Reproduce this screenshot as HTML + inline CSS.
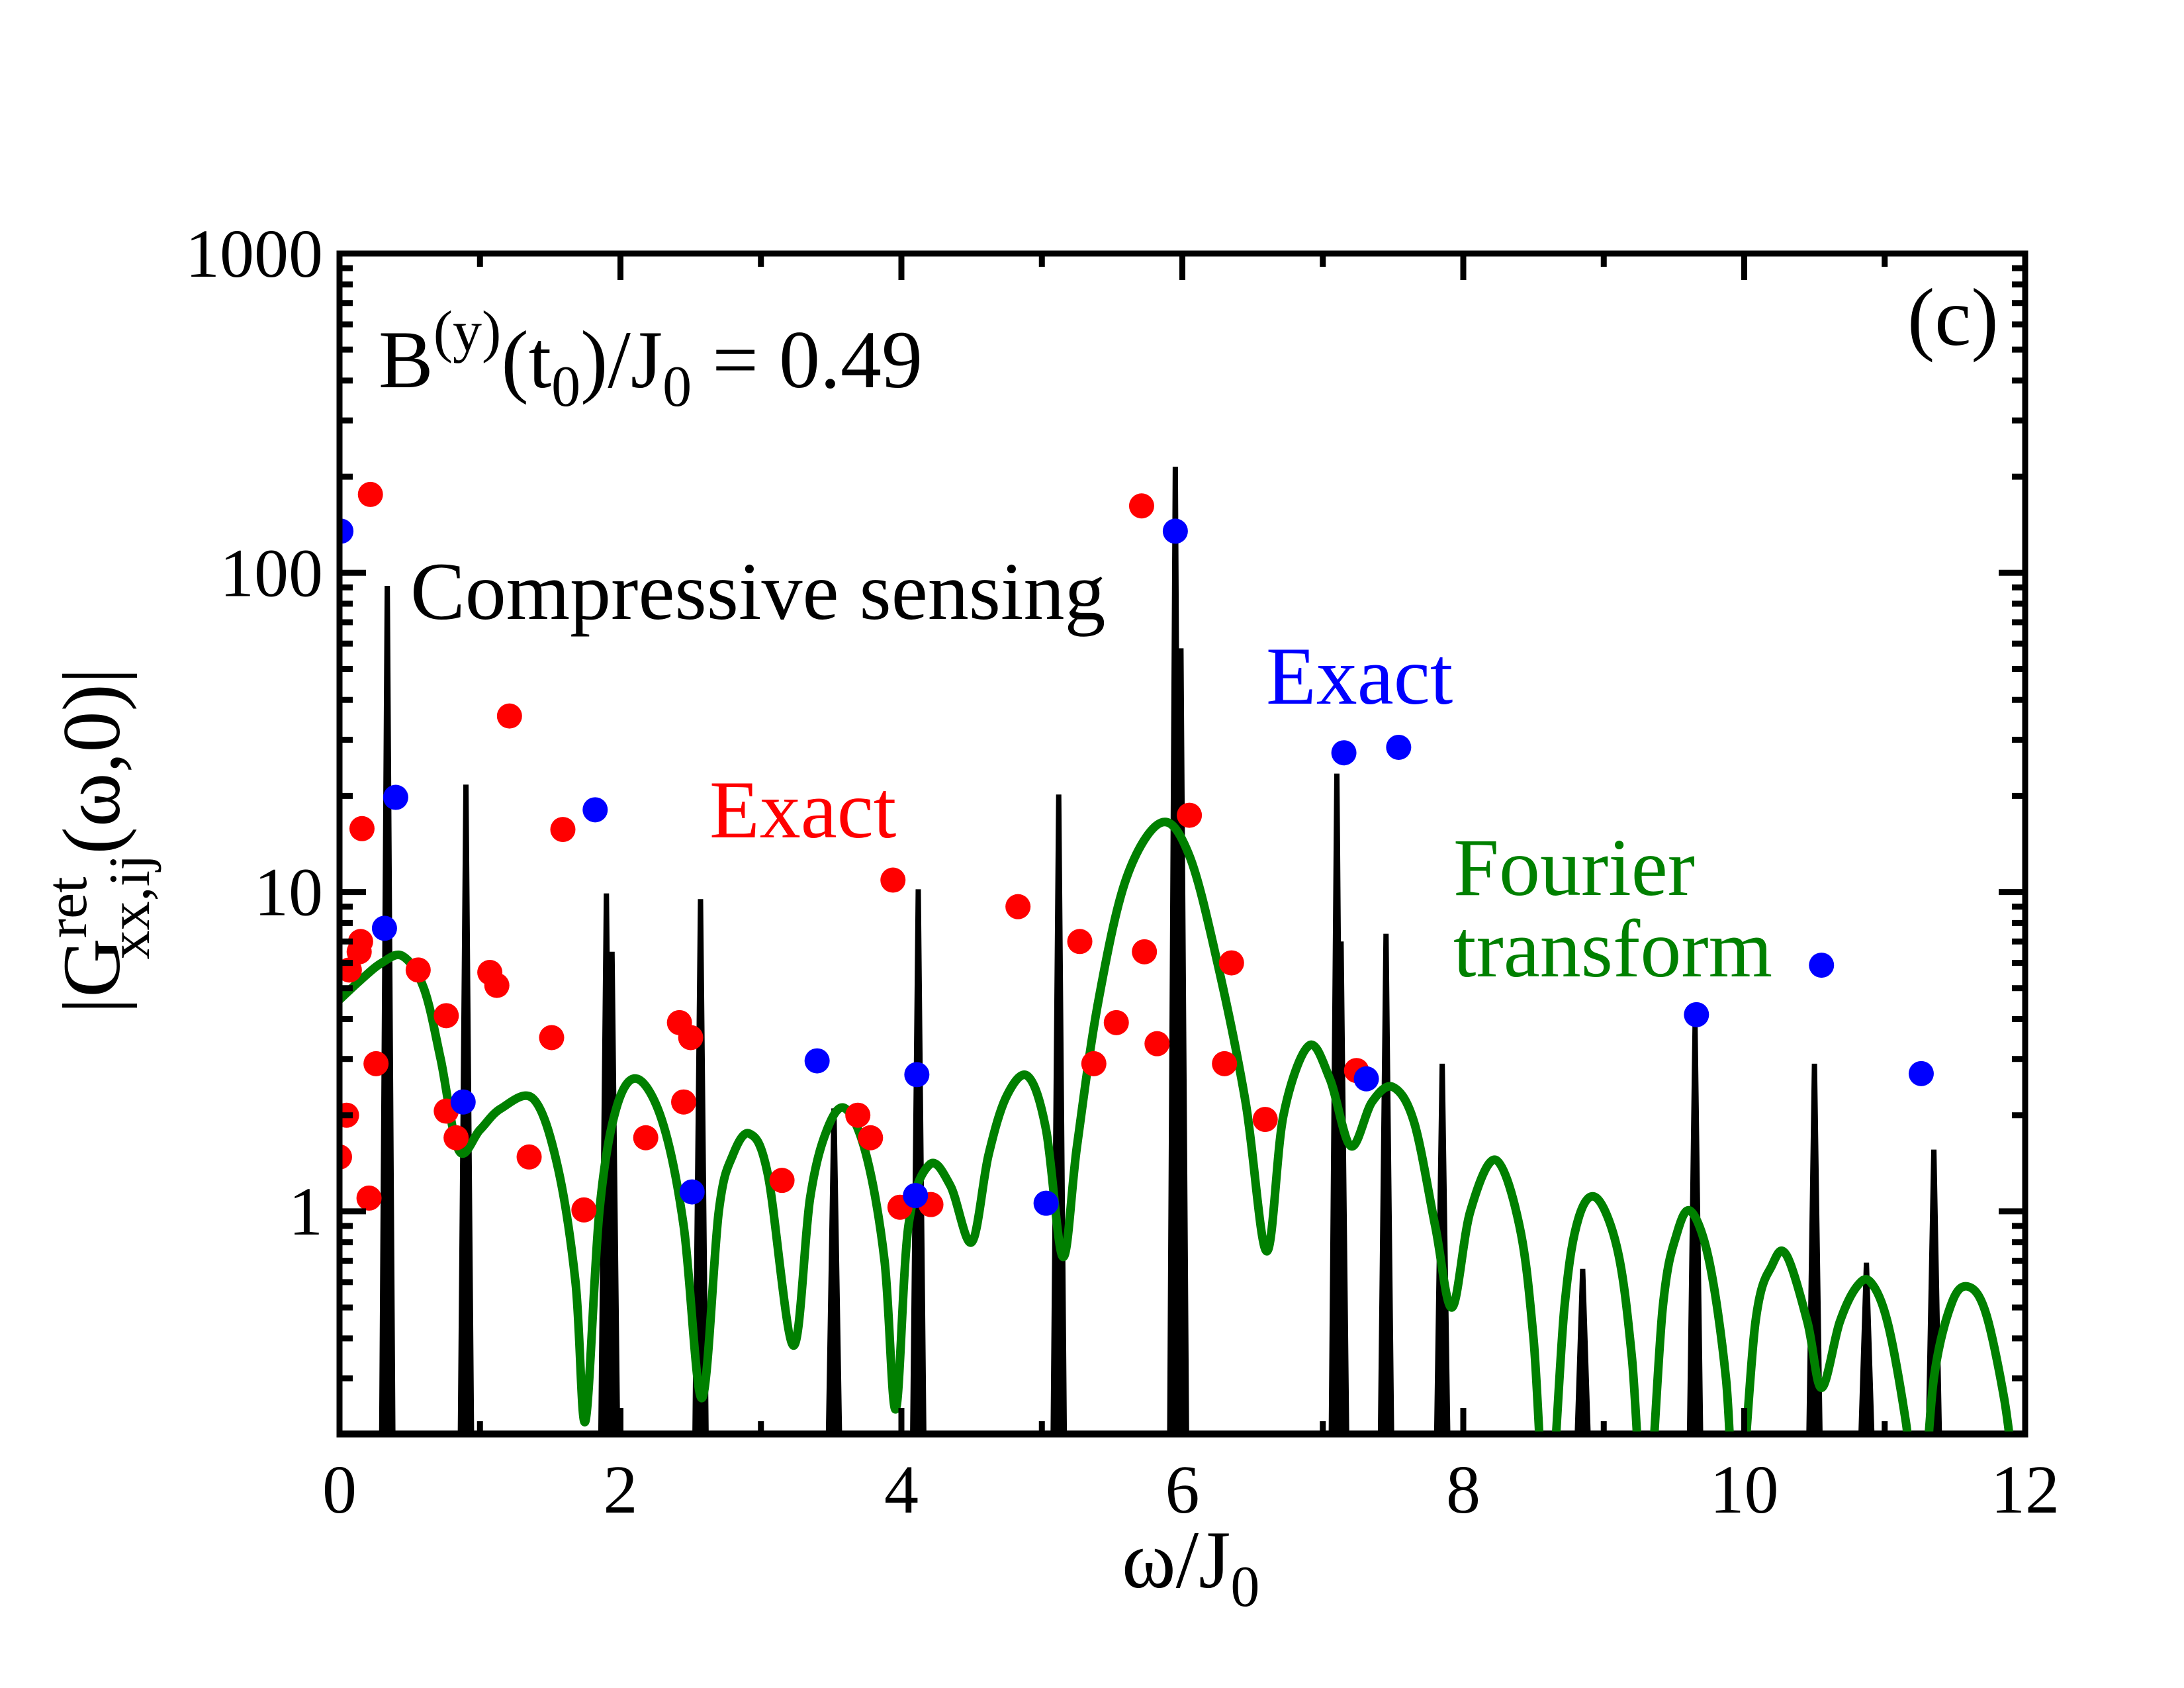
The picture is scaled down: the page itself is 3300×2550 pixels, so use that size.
<!DOCTYPE html>
<html><head><meta charset="utf-8"><style>
html,body{margin:0;padding:0;background:#fff}
svg{display:block}
text{font-family:"Liberation Serif",serif}
</style></head><body>
<svg id="chart" width="3300" height="2550" xmlns="http://www.w3.org/2000/svg">
<defs><clipPath id="plotclip"><rect x="513" y="383" width="2547" height="1784"/></clipPath></defs>
<g id="marks" clip-path="url(#plotclip)"></g>
<g id="axes"></g>
<text x="572" y="585" font-size="124">B<tspan dy="-55" font-size="88">(y)</tspan><tspan dy="55">(t</tspan><tspan dy="28" font-size="88">0</tspan><tspan dy="-28">)/J</tspan><tspan dy="28" font-size="88">0</tspan><tspan dy="-28"> = 0.49</tspan></text>
<text x="2882" y="521" font-size="124">(c)</text>
<text x="620" y="935" font-size="124">Compressive sensing</text>
<text x="1072" y="1265" font-size="124" fill="#ff0000">Exact</text>
<text x="1913" y="1063" font-size="124" fill="#0000ff">Exact</text>
<text x="2196" y="1352" font-size="124" fill="#008000">Fourier</text>
<text x="2196" y="1475" font-size="124" fill="#008000">transform</text>
<text x="1695" y="2398" font-size="124">ω/J<tspan dy="28" font-size="88">0</tspan></text>
<text transform="translate(180,1270) rotate(-90)" text-anchor="middle" font-size="124">|G<tspan dy="-50" font-size="88">ret</tspan><tspan dx="-125" dy="95" font-size="88">xx,ij</tspan><tspan dy="-45">(ω,0)|</tspan></text>
</svg>
<script>
const xTicks=[0,2,4,6,8,10,12];
const yTicks=[1,10,100,1000];
const yTickLabels=["1","10","100","1000"];
const redX=[0.22,0,0.05,0.07,0.14,0.15,0.16,0.21,0.26,0.56,0.76,0.76,0.83,1.07,1.12,1.21,1.35,1.51,1.59,1.74,2.18,2.42,2.45,2.50,3.15,3.69,3.78,3.94,3.99,4.21,4.83,5.27,5.37,5.53,5.71,5.73,5.82,6.05,6.35,6.30,6.59,7.24];
const redY=[176,1.48,2.0,5.7,6.5,7.0,15.8,1.1,2.9,5.7,4.1,2.06,1.7,5.6,5.1,35.6,1.48,3.5,15.7,1.01,1.7,3.9,2.2,3.5,1.25,2.0,1.7,10.9,1.03,1.05,9.0,7.0,2.9,3.9,162,6.5,3.35,17.4,6.0,2.9,1.94,2.76];
const blueX=[0.01,0.32,0.40,0.88,1.82,2.51,3.40,4.11,4.10,5.03,5.95,7.15,7.31,7.54,9.66,10.55,11.26];
const blueY=[135,7.7,19.8,2.2,18.1,1.15,2.96,2.68,1.12,1.06,135,27.3,2.6,28.4,4.13,5.9,2.7];
const spikeX=[0.34,0.90,1.90,1.94,2.57,3.52,4.12,5.12,5.95,5.99,7.10,7.13,7.45,7.85,8.85,9.65,10.50,10.87,11.35];
const spikeY=[91,21.7,9.9,6.5,9.5,2.1,10.2,20.2,215,58,23.5,7,7.4,2.9,0.66,3.8,2.9,0.69,1.56];
const greenX=[0,0.15,0.3,0.45,0.6,0.72,0.85,1.0,1.15,1.38,1.55,1.68,1.75,1.85,1.97,2.12,2.3,2.45,2.58,2.7,2.8,2.92,3.05,3.23,3.35,3.47,3.6,3.75,3.88,3.96,4.05,4.2,4.35,4.5,4.62,4.75,4.9,5.03,5.15,5.25,5.4,5.6,5.85,6.05,6.25,6.45,6.6,6.72,6.9,7.05,7.2,7.35,7.5,7.65,7.8,7.92,8.05,8.23,8.4,8.5,8.6,8.72,8.82,8.95,9.1,9.2,9.3,9.42,9.52,9.62,9.75,9.87,9.95,10.08,10.2,10.3,10.45,10.55,10.68,10.8,10.9,11.02,11.15,11.25,11.35,11.48,11.6,11.72,11.85,11.92];
const greenY=[4.6,5.3,6.0,6.3,5.0,3.0,1.55,1.8,2.1,2.25,1.4,0.6,0.22,1.0,2.1,2.6,1.9,0.9,0.26,1.0,1.5,1.75,1.3,0.38,1.1,1.8,2.1,1.5,0.7,0.24,0.9,1.4,1.2,0.8,1.5,2.3,2.65,1.8,0.72,1.6,4.5,11,16.5,13,6,2.2,0.75,2.0,3.3,2.6,1.6,2.2,2.45,1.9,0.9,0.5,1.0,1.45,0.9,0.4,0.1,0.5,0.95,1.1,0.75,0.35,0.1,0.5,0.85,1.0,0.7,0.3,0.1,0.45,0.68,0.73,0.45,0.28,0.45,0.58,0.6,0.45,0.22,0.1,0.3,0.52,0.58,0.48,0.26,0.15];

const X0=513,X1=3060,YT=383,YB=2167,XMIN=0,XMAX=12,YMIN=0.2,YMAX=1000;
const sx=v=>X0+(v-XMIN)/(XMAX-XMIN)*(X1-X0);
const lmin=Math.log10(YMIN),lmax=Math.log10(YMAX);
const sy=v=>YB-(Math.log10(v)-lmin)/(lmax-lmin)*(YB-YT);
const NS='http://www.w3.org/2000/svg';
const marks=document.getElementById('marks'),axes=document.getElementById('axes');
function mk(tag,parent){const e=document.createElementNS(NS,tag);parent.appendChild(e);return e;}

spikeX.forEach((x,i)=>{
  const p=mk('polygon',marks);
  
  
  const w=0.04;
  p.setAttribute('points',`${sx(x-w)},${YB+10} ${sx(x)},${sy(spikeY[i])} ${sx(x+w)},${YB+10}`);
  p.setAttribute('fill','#000');p.setAttribute('stroke','#000');p.setAttribute('stroke-width','8');p.setAttribute('stroke-linejoin','miter');
});
{const l=mk('line',marks);


l.setAttribute('x1',X0);l.setAttribute('x2',X1);l.setAttribute('y1',YB-3);l.setAttribute('y2',YB-3);l.setAttribute('stroke','#000');l.setAttribute('stroke-width','6');}

{const pts=greenX.map((x,i)=>[sx(x),sy(greenY[i])]);
let d=`M${pts[0][0]},${pts[0][1]}`;
for(let i=0;i<pts.length-1;i++){const p0=pts[Math.max(0,i-1)],p1=pts[i],p2=pts[i+1],p3=pts[Math.min(pts.length-1,i+2)];
d+=` C${p1[0]+(p2[0]-p0[0])/6},${p1[1]+(p2[1]-p0[1])/6} ${p2[0]-(p3[0]-p1[0])/6},${p2[1]-(p3[1]-p1[1])/6} ${p2[0]},${p2[1]}`;}
const p=mk('path',marks);


p.setAttribute('d',d);p.setAttribute('fill','none');p.setAttribute('stroke','#008000');p.setAttribute('stroke-width','13');}

redX.forEach((x,i)=>{const c=mk('circle',marks);


c.setAttribute('cx',sx(x));c.setAttribute('cy',sy(redY[i]));c.setAttribute('r','19');c.setAttribute('fill','#ff0000');});
blueX.forEach((x,i)=>{const c=mk('circle',marks);


c.setAttribute('cx',sx(x));c.setAttribute('cy',sy(blueY[i]));c.setAttribute('r','19');c.setAttribute('fill','#0000ff');});

{const r=mk('rect',axes);


r.setAttribute('x',X0);r.setAttribute('y',YT);r.setAttribute('width',X1-X0);r.setAttribute('height',YB-YT);r.setAttribute('fill','none');r.setAttribute('stroke','#000');r.setAttribute('stroke-width','9');}
function tick(x1,y1,x2,y2){const l=mk('line',axes);


l.setAttribute('x1',x1);l.setAttribute('y1',y1);l.setAttribute('x2',x2);l.setAttribute('y2',y2);l.setAttribute('stroke','#000');l.setAttribute('stroke-width','9');}
for(let v=XMIN;v<=XMAX;v+=1){const L=(v%2===0)?40:20;const x=sx(v);tick(x,YB,x,YB-L);tick(x,YT,x,YT+L);}
xTicks.forEach(v=>{const t=mk('text',axes);


t.setAttribute('x',sx(v));t.setAttribute('y',2285);t.setAttribute('text-anchor','middle');t.setAttribute('font-size','104');t.textContent=String(v);});
for(let e=-1;e<3;e++){for(let m=1;m<10;m++){const v=m*Math.pow(10,e);if(v<YMIN-1e-9||v>YMAX)continue;const y=sy(v);const L=m===1?40:20;tick(X0,y,X0+L,y);tick(X1,y,X1-L,y);}}
tick(X0,sy(1000),X0+40,sy(1000));tick(X1,sy(1000),X1-40,sy(1000));
yTicks.forEach((v,i)=>{const t=mk('text',axes);


t.setAttribute('x',488);t.setAttribute('y',sy(v)+35);t.setAttribute('text-anchor','end');t.setAttribute('font-size','104');t.textContent=yTickLabels[i];});
</script>
</body></html>
